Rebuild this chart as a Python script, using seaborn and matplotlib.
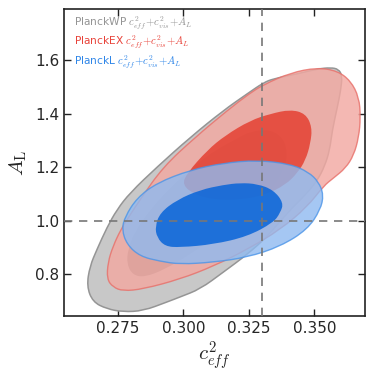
import numpy as np
import matplotlib
matplotlib.use("Agg")
import matplotlib.pyplot as plt
from matplotlib.path import Path
from matplotlib.patches import PathPatch
import seaborn as sns

# contour outlines (c_eff^2, A_L), 68% and 95% regions
wp95_x = [0.3512, 0.3562, 0.3592, 0.3606, 0.3600, 0.3587, 0.3568, 0.3558, 0.3539, 0.3512,
          0.3473, 0.3397, 0.3320, 0.3244, 0.3152, 0.3064, 0.2987, 0.2938, 0.2846, 0.2769,
          0.2708, 0.2654, 0.2631, 0.2643, 0.2670, 0.2708, 0.2746, 0.2796, 0.2899, 0.3026,
          0.3152, 0.3244, 0.3305, 0.3343, 0.3435]
wp95_y = [1.5667, 1.5715, 1.5656, 1.5408, 1.4852, 1.4223, 1.3371, 1.2630, 1.2037, 1.1519,
          1.1037, 1.0296, 0.9407, 0.8741, 0.8074, 0.7444, 0.7148, 0.6963, 0.6629, 0.6592,
          0.6703, 0.6963, 0.7555, 0.8296, 0.8926, 0.9741, 1.0407, 1.1037, 1.2000, 1.3111,
          1.4111, 1.4741, 1.5149, 1.5297, 1.5482]
wp68_x = [0.3206, 0.3255, 0.3332, 0.3382, 0.3397, 0.3389, 0.3359, 0.3301, 0.3217, 0.3121,
          0.3026, 0.2930, 0.2853, 0.2807, 0.2784, 0.2788, 0.2815, 0.2873, 0.2949, 0.3045,
          0.3121]
wp68_y = [1.3074, 1.3334, 1.3408, 1.3074, 1.2519, 1.2074, 1.1408, 1.0778, 1.0111, 0.9407,
          0.8741, 0.8185, 0.7889, 0.7963, 0.8370, 0.8926, 0.9593, 1.0407, 1.1222, 1.2074,
          1.2630]

ex95_x = [0.3305, 0.3408, 0.3511, 0.3587, 0.3638, 0.3670, 0.3676, 0.3669, 0.3650, 0.3619,
          0.3573, 0.3535, 0.3473, 0.3370, 0.3244, 0.3114, 0.2987, 0.2846, 0.2769, 0.2731,
          0.2708, 0.2712, 0.2731, 0.2761, 0.2792, 0.2834, 0.2922, 0.3045, 0.3167, 0.3251]
ex95_y = [1.5074, 1.5519, 1.5715, 1.5593, 1.5223, 1.4604, 1.3863, 1.3111, 1.2445, 1.1963,
          1.1593, 1.1296, 1.0519, 0.9667, 0.8926, 0.8296, 0.7815, 0.7444, 0.7370, 0.7518,
          0.7815, 0.8444, 0.9037, 0.9667, 1.0148, 1.0778, 1.2000, 1.3111, 1.4111, 1.4741]
ex68_x = [0.3255, 0.3332, 0.3408, 0.3466, 0.3491, 0.3485, 0.3466, 0.3435, 0.3389, 0.3313,
          0.3217, 0.3121, 0.3045, 0.2995, 0.3014, 0.3091, 0.3160]
ex68_y = [1.3741, 1.3989, 1.4148, 1.4000, 1.3493, 1.2889, 1.2259, 1.1778, 1.1333, 1.0963,
          1.0778, 1.0778, 1.0963, 1.1333, 1.1778, 1.2630, 1.3185]

l95_x = [0.3282, 0.3408, 0.3477, 0.3516, 0.3535, 0.3523, 0.3473, 0.3370, 0.3244, 0.3114,
         0.2987, 0.2911, 0.2834, 0.2784, 0.2765, 0.2777, 0.2823, 0.2899, 0.3026, 0.3152]
l95_y = [1.2259, 1.2111, 1.1815, 1.1445, 1.0963, 1.0407, 0.9667, 0.9037, 0.8630, 0.8444,
         0.8370, 0.8481, 0.8667, 0.9111, 0.9667, 1.0148, 1.0852, 1.1408, 1.1889, 1.2148]
l68_x = [0.3152, 0.3217, 0.3282, 0.3343, 0.3382, 0.3370, 0.3343, 0.3244, 0.3114, 0.2987,
         0.2930, 0.2899, 0.2892, 0.2911, 0.2976, 0.3064]
l68_y = [1.1333, 1.1408, 1.1370, 1.1148, 1.0667, 1.0296, 0.9926, 0.9407, 0.9111, 0.9000,
         0.9037, 0.9370, 0.9778, 1.0296, 1.0778, 1.1148]

fiducial_ceff = 0.33
fiducial_AL = 1.0

labels = [r"PlanckWP $c^2_{eff}\!+\!c^2_{vis}\!+\!A_L$",
          r"PlanckEX $c^2_{eff}\!+\!c^2_{vis}\!+\!A_L$",
          r"PlanckL $c^2_{eff}\!+\!c^2_{vis}\!+\!A_L$"]
label_colors = ["#949494", "#e8433a", "#2f86e8"]


def smooth_region(ax, xs, ys, **kw):
    # closed outline drawn as quadratic bezier through the outline points
    pts = np.column_stack([xs, ys])
    nxt = np.roll(pts, -1, axis=0)
    mids = (pts + nxt) / 2
    verts = [mids[-1]]
    codes = [Path.MOVETO]
    for p, m in zip(pts, mids):
        verts += [p, m]
        codes += [Path.CURVE3, Path.CURVE3]
    verts.append(mids[-1])
    codes.append(Path.CLOSEPOLY)
    ax.add_patch(PathPatch(Path(verts, codes), **kw))


sns.set_style("ticks")
plt.rcParams["mathtext.fontset"] = "cm"
plt.rcParams["font.family"] = ["DejaVu Sans"]

fig = plt.figure(figsize=(3.74, 3.79), dpi=100)
ax = fig.add_axes([0.171, 0.165, 0.805, 0.811])

# PlanckWP (grey)
smooth_region(ax, wp95_x, wp95_y, facecolor="#c8c8c8", edgecolor="#959595", lw=1.1, zorder=1)
smooth_region(ax, wp68_x, wp68_y, facecolor="#8c8c8c", edgecolor="none", zorder=2)
# PlanckEX (red)
smooth_region(ax, ex95_x, ex95_y, facecolor="#f2a9a2", edgecolor="#e8706a", lw=1.0, alpha=0.82, zorder=3)
smooth_region(ax, ex68_x, ex68_y, facecolor="#e4392a", edgecolor="none", alpha=0.8, zorder=4)
# PlanckL (blue)
smooth_region(ax, l95_x, l95_y, facecolor="#8fbaf0", edgecolor="#4a94e8", lw=1.0, alpha=0.8, zorder=5)
smooth_region(ax, l68_x, l68_y, facecolor="#0563d8", edgecolor="none", alpha=0.84, zorder=6)

ax.axvline(fiducial_ceff, color="#777777", ls=(0, (5, 4)), lw=1.2, zorder=7)
ax.axhline(fiducial_AL, color="#777777", ls=(0, (5, 4)), lw=1.2, zorder=7)

ax.set_xlim(0.2544, 0.3693)
ax.set_ylim(0.642, 1.79)
ax.set_xticks([0.275, 0.300, 0.325, 0.350])
ax.set_yticks([0.8, 1.0, 1.2, 1.4, 1.6])
ax.set_xticklabels(["0.275", "0.300", "0.325", "0.350"])
ax.tick_params(direction="in", top=True, right=True, length=5, width=1,
               labelsize=11, color="#222222")
for s in ax.spines.values():
    s.set_linewidth(1.2)
    s.set_color("#222222")

ax.set_xlabel(r"$c^2_{eff}$", fontsize=15, labelpad=2)
ax.set_ylabel(r"$A_{\rm L}$", fontsize=15, labelpad=4)

for i, (t, c) in enumerate(zip(labels, label_colors)):
    ax.text(0.033, 0.954 - i * 0.063, t, color=c, fontsize=7.7,
            transform=ax.transAxes, va="center", ha="left", zorder=8)

fig.savefig("out.png", dpi=100)
